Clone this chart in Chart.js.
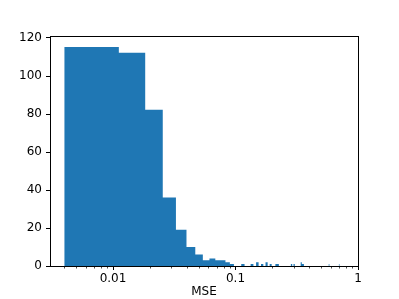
<!DOCTYPE html>
<html>
<head>
<meta charset="utf-8">
<script src="https://cdn.jsdelivr.net/npm/chart.js@4"></script>
<style>
  html, body { margin: 0; padding: 0; background: #fff; }
  #hist { display: block; }
</style>
</head>
<body>
<canvas id="hist" width="399" height="299"></canvas>
<script>
// histogram bins (linear bins, log x axis)
const binStart = 0.004;
const binWidth = 0.00716;
const counts = [
  115, 112, 82, 36, 19, 10, 6, 3, 4, 3,
  3, 2, 1, 0, 0, 1, 0, 0, 1, 0,
  2, 0, 1, 0, 2, 0, 1, 0, 0, 1,
  1, 0, 0, 0, 0, 0, 0, 0, 0, 1,
  0, 1, 0, 0, 0, 0, 0, 2, 1, 1,
  0, 0, 0, 0, 0, 0, 0, 0, 0, 0,
  0, 0, 0, 0, 0, 0, 0, 0, 0, 0,
  0, 0, 0, 0, 0, 0, 0, 0, 0, 0,
  1, 0, 0, 0, 0, 0, 0, 0, 0, 0,
  0, 0, 0, 0, 0, 0, 0, 1, 0, 0
];
const xTicks = [0.01, 0.1, 1];
const yTicks = [0, 20, 40, 60, 80, 100, 120];
const xLabel = 'MSE';

const barColor = '#1f77b4';
const font = { family: 'DejaVu Sans', size: 12 };

// step points: left edge of each bin with its count, then close the last bin
const steps = counts.map((c, i) => ({ x: binStart + i * binWidth, y: c }));
steps.push({ x: binStart + counts.length * binWidth, y: 0 });

// matplotlib style ticks + full frame
const frameTicks = {
  id: 'frameTicks',
  afterDraw(chart) {
    const ctx = chart.ctx;
    const a = chart.chartArea;
    const xs = chart.scales.x;
    const ys = chart.scales.y;
    ctx.save();
    ctx.strokeStyle = '#000';
    ctx.lineWidth = 1;
    // y ticks
    yTicks.forEach(v => {
      const py = Math.round(ys.getPixelForValue(v)) + 0.5;
      ctx.beginPath();
      ctx.moveTo(a.left - 4, py);
      ctx.lineTo(a.left, py);
      ctx.stroke();
    });
    // x major + minor ticks
    for (let e = -3; e <= 0; e++) {
      for (let m = 1; m <= 9; m++) {
        const v = m * Math.pow(10, e);
        if (v < xs.min || v > xs.max) continue;
        const px = Math.round(xs.getPixelForValue(v)) + 0.5;
        const len = m === 1 ? 4 : 2.5;
        ctx.lineWidth = m === 1 ? 1 : 0.7;
        ctx.beginPath();
        ctx.moveTo(px, a.bottom);
        ctx.lineTo(px, a.bottom + len);
        ctx.stroke();
      }
    }
    // frame
    ctx.lineWidth = 1;
    ctx.strokeRect(Math.round(a.left) + 0.5, Math.round(a.top) + 0.5,
      Math.round(a.right - a.left), Math.round(a.bottom - a.top));
    ctx.restore();
  }
};

new Chart(document.getElementById('hist').getContext('2d'), {
  type: 'line',
  data: {
    datasets: [{
      data: steps,
      stepped: 'before',
      fill: 'origin',
      backgroundColor: barColor,
      borderWidth: 0,
      pointRadius: 0
    }]
  },
  options: {
    responsive: false,
    animation: false,
    plugins: {
      legend: { display: false },
      tooltip: { enabled: false }
    },
    layout: {
      padding: { top: 36, right: 41, left: 0, bottom: 0 }
    },
    scales: {
      x: {
        type: 'logarithmic',
        min: 0.00306,
        max: 1,
        afterBuildTicks: s => { s.ticks = xTicks.map(v => ({ value: v })); },
        afterFit: s => { s.height = 33; },
        grid: { display: false, drawTicks: false },
        border: { display: false },
        title: {
          display: true,
          text: xLabel,
          color: '#000',
          font: font,
          padding: { top: 0, bottom: 0 }
        },
        ticks: {
          color: '#000',
          font: font,
          padding: 6,
          maxRotation: 0,
          autoSkip: false,
          callback: v => String(v)
        }
      },
      y: {
        min: 0,
        max: 120.75,
        afterBuildTicks: s => { s.ticks = yTicks.map(v => ({ value: v })); },
        afterFit: s => { s.width = 50; },
        grid: { display: false, drawTicks: false },
        border: { display: false },
        ticks: {
          color: '#000',
          font: font,
          padding: 8
        }
      }
    }
  },
  plugins: [frameTicks]
});
</script>
</body>
</html>
